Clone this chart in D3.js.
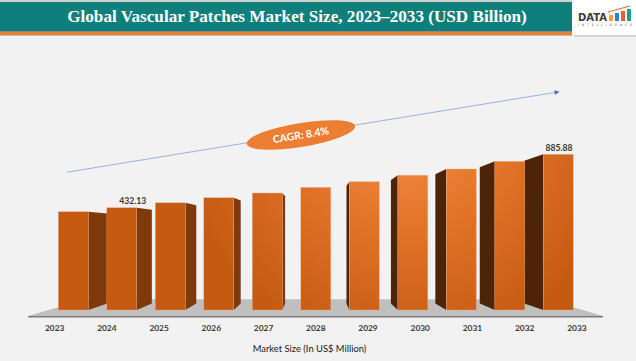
<!DOCTYPE html>
<html><head><meta charset="utf-8">
<script src="https://cdn.jsdelivr.net/npm/d3@7"></script>
<style>html,body{margin:0;padding:0;background:#f2f2f2;}svg{display:block;}</style>
</head><body>
<svg id="chart" width="636" height="361"></svg>
<script>
// ---- data ----
const years = ['2023','2024','2025','2026','2027','2028','2029','2030','2031','2032','2033'];
const values = [398, 432.13, 474, 517, 557, 605, 653, 708, 761, 826, 885.88];
const labeledYears = ['2024','2033'];
const titleText = 'Global Vascular Patches Market Size, 2023\u20132033 (USD Billion)';
const axisTitle = 'Market Size (In US$ Million)';
const cagrText = 'CAGR: 8.4%';

const W = 636, H = 361;
const svg = d3.select('#chart');
svg.append('rect').attr('width', W).attr('height', H).attr('fill', '#f2f2f2');

// scales
const x = d3.scalePoint().domain(years).range([73.3, 558.3]);
const y = d3.scaleLinear().domain([-437, 885.88]).range([310, 154.3]);
const barW = 30;
const vp = {x: x('2028'), y: 232};
const depthK = 0.916;       // back face scale toward vanishing point
const proj = (px, py, k) => [vp.x + (px - vp.x) * k, vp.y + (py - vp.y) * k];

const defs = svg.append('defs');
const rg = defs.append('radialGradient').attr('id', 'frontGrad')
  .attr('gradientUnits', 'userSpaceOnUse').attr('cx', 405).attr('cy', 125).attr('r', 225);
rg.append('stop').attr('offset', '0').attr('stop-color', '#f59146');
rg.append('stop').attr('offset', '0.45').attr('stop-color', '#e3742a');
rg.append('stop').attr('offset', '1').attr('stop-color', '#c55a11');

// ---- title bar ----
svg.append('rect').attr('x', 0).attr('y', 0).attr('width', W).attr('height', 2).attr('fill', '#d0d0d0');
svg.append('rect').attr('x', 0).attr('y', 2).attr('width', 572).attr('height', 29).attr('fill', '#0f7f7c');
svg.append('rect').attr('x', 0).attr('y', 31).attr('width', 572).attr('height', 1).attr('fill', '#8a8a8a');
svg.append('rect').attr('x', 0).attr('y', 32).attr('width', 572).attr('height', 3).attr('fill', '#ed7d31');
svg.append('rect').attr('x', 0).attr('y', 35).attr('width', 572).attr('height', 1).attr('fill', '#bdbdbd');
const tt = svg.append('text').text(titleText)
  .attr('x', 297).attr('y', 22).attr('text-anchor', 'middle')
  .attr('fill', '#ffffff').attr('font-family', 'Liberation Serif, serif')
  .attr('font-weight', 'bold').attr('font-size', 15);
const tw = tt.node().getComputedTextLength();
tt.attr('font-size', 15 * 460 / tw);

// logo
svg.append('rect').attr('x', 574).attr('y', 2).attr('width', 62).attr('height', 35).attr('fill', '#d6d6d6');
svg.append('rect').attr('x', 572).attr('y', 0).attr('width', 64).attr('height', 35).attr('fill', '#ffffff');
svg.append('text').text('DATA').attr('x', 578).attr('y', 21)
  .attr('font-family', 'DejaVu Sans Condensed, DejaVu Sans, sans-serif').attr('font-weight', 'bold')
  .attr('font-size', 11).attr('fill', '#3b3b3b').attr('textLength', 29).attr('lengthAdjust', 'spacingAndGlyphs');
const logoBars = [{c:'#f0a030', h:6}, {c:'#2f80c0', h:8}, {c:'#e8632a', h:10}, {c:'#1f9e8a', h:12}];
logoBars.forEach((b, i) => {
  svg.append('rect').attr('x', 609 + i * 6).attr('y', 21 - b.h).attr('width', 4).attr('height', b.h).attr('fill', b.c);
});
svg.append('path').attr('d', 'M608,12 L630,6').attr('stroke', '#e8632a').attr('stroke-width', 1).attr('fill', 'none');
svg.append('text').text('INTELLIGENCE').attr('x', 578).attr('y', 26)
  .attr('font-family', 'DejaVu Sans, sans-serif').attr('font-size', 3.2).attr('fill', '#555')
  .attr('textLength', 54).attr('lengthAdjust', 'spacing');

// ---- floor ----
const floorK = 84 / 78;   // front of floor relative to bar front plane
const floorBackK = 0.801;
const [x0, x1] = x.range();
const fl = x0 - 24.7, fr = x1 + 24.2;
const base = y.range()[0];
const fA = proj(fl, base, floorK), fB = proj(fr, base, floorK);
const fC = proj(fr, base, floorK * floorBackK), fD = proj(fl, base, floorK * floorBackK);
svg.append('path').attr('d', `M${fA}L${fB}L${fC}L${fD}Z`).attr('fill', '#bfbfbf');
svg.append('line').attr('x1', fA[0]).attr('x2', fB[0]).attr('y1', fA[1] + 0.8).attr('y2', fB[1] + 0.8)
  .attr('stroke', '#7a7a7a').attr('stroke-width', 1.6);

// ---- bars ----
const data = years.map((yr, i) => ({yr, v: values[i], i}));
const gSides = svg.append('g'), gFront = svg.append('g');
data.forEach(d => {
  const cx = x(d.yr);
  const l = cx - barW / 2, r = cx + barW / 2;
  const top = y(d.v), bot = base;
  if (Math.abs(cx - vp.x) > 2) {
    const edge = cx < vp.x ? r : l;
    const bt = proj(edge, top, depthK), bb = proj(edge, bot, depthK);
    gSides.append('path')
      .attr('d', `M${edge},${top}L${bt}L${bb}L${edge},${bot}Z`)
      .attr('fill', cx < vp.x ? '#7f390b' : '#4d2407');
  }
  gFront.append('rect').attr('x', l).attr('y', top).attr('width', barW).attr('height', bot - top)
    .attr('fill', 'url(#frontGrad)').attr('stroke', '#f4b183').attr('stroke-width', 0.5).attr('stroke-opacity', 0.7);
});

// value labels
data.filter(d => labeledYears.includes(d.yr)).forEach(d => {
  const cx = x(d.yr);
  const shift = cx < vp.x ? (vp.x - cx) * 0.057 : 0.7;
  svg.append('text').text(d.v.toFixed(2))
    .attr('x', cx + shift).attr('y', y(d.v) - 3.5).attr('text-anchor', 'middle')
    .attr('font-family', 'Lato, sans-serif').attr('font-weight', 'bold').attr('font-size', 8.6)
    .attr('fill', '#3a3a3a');
});

// year labels (projected to floor front)
years.forEach(yr => {
  const p = proj(x(yr), base, floorK);
  svg.append('text').text(yr).attr('x', p[0]).attr('y', 331).attr('text-anchor', 'middle')
    .attr('font-family', 'Lato, sans-serif').attr('font-weight', 'bold').attr('font-size', 8.4)
    .attr('fill', '#3a3a3a');
});

svg.append('text').text(axisTitle).attr('x', 309.5).attr('y', 352).attr('text-anchor', 'middle')
  .attr('font-family', 'Lato, sans-serif').attr('font-size', 9.4).attr('fill', '#1a1a1a');

// ---- CAGR arrow ----
const s = [x(years[0]) - 6.5, y(values[0]) - 39.5];
const e = [x(years[years.length - 1]) + 1.3, y(values[values.length - 1]) - 62.6];
const ang = Math.atan2(e[1] - s[1], e[0] - s[0]) * 180 / Math.PI;
svg.append('line').attr('x1', s[0]).attr('y1', s[1]).attr('x2', e[0] - 3).attr('y2', e[1] + 0.5)
  .attr('stroke', '#8eaadb').attr('stroke-width', 0.9);
svg.append('path').attr('d', 'M0,0 L-5,-2.3 L-5,2.3 Z').attr('fill', '#4472c4')
  .attr('transform', `translate(${e[0]},${e[1]}) rotate(${ang})`);
const t = 0.475;
const ec = [s[0] + (e[0] - s[0]) * t, s[1] + (e[1] - s[1]) * t + 1];
const eg = svg.append('g').attr('transform', `translate(${ec[0]},${ec[1]}) rotate(${ang})`);
eg.append('ellipse').attr('rx', 55).attr('ry', 12).attr('fill', '#ed7d31');
eg.append('text').text(cagrText).attr('y', 3.8).attr('text-anchor', 'middle')
  .attr('font-family', 'Lato, sans-serif').attr('font-weight', 'bold').attr('font-size', 10.5)
  .attr('fill', '#ffffff');
</script>
</body></html>
